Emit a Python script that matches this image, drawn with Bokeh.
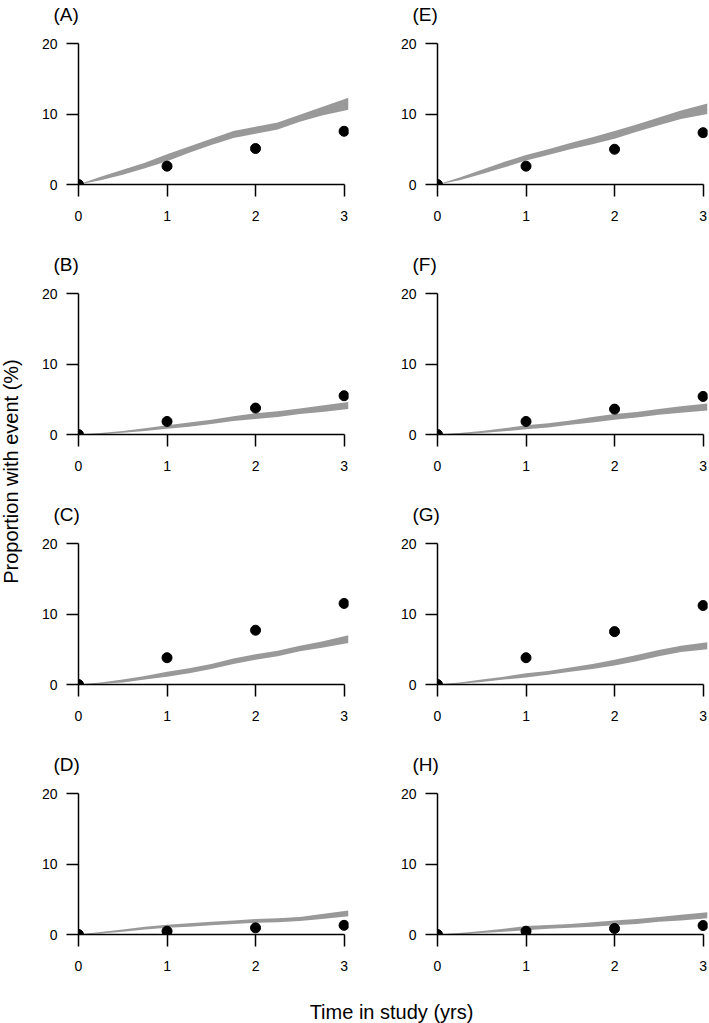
import numpy as np
from bokeh.plotting import figure
from bokeh.layouts import column, row
from bokeh.models import Range1d, FixedTicker, Label
from bokeh.embed import file_html
from bokeh.resources import INLINE

# ---------------- data ----------------
time_grid = [0, 0.25, 0.5, 0.75, 1, 1.25, 1.5, 1.75, 2, 2.25, 2.5, 2.75, 3.05]
obs_time = [0, 1, 2, 3]
x_ticks = [0, 1, 2, 3]
y_ticks = [0, 10, 20]

upper_A = [0, 1.1, 2.1, 3.1, 4.3, 5.4, 6.5, 7.6, 8.2, 8.8, 9.9, 11.0, 12.3]
lower_A = [0, 0.6, 1.4, 2.3, 3.3, 4.5, 5.6, 6.6, 7.2, 7.8, 8.9, 9.8, 10.6]
upper_B = [0, 0.2, 0.5, 0.9, 1.3, 1.7, 2.1, 2.6, 3.0, 3.3, 3.7, 4.1, 4.6]
lower_B = [0, 0.05, 0.25, 0.5, 0.8, 1.1, 1.5, 1.9, 2.2, 2.5, 2.9, 3.2, 3.6]
upper_C = [0, 0.3, 0.7, 1.2, 1.8, 2.3, 2.9, 3.7, 4.3, 4.8, 5.5, 6.1, 7.0]
lower_C = [0, 0.1, 0.3, 0.7, 1.1, 1.6, 2.2, 2.9, 3.5, 4.0, 4.7, 5.2, 5.9]
upper_D = [0, 0.35, 0.7, 1.1, 1.4, 1.6, 1.8, 2.0, 2.2, 2.3, 2.5, 2.9, 3.4]
lower_D = [0, 0.15, 0.4, 0.7, 0.95, 1.1, 1.3, 1.5, 1.65, 1.75, 1.9, 2.2, 2.6]
upper_E = [0, 1.0, 2.1, 3.2, 4.2, 5.0, 5.9, 6.7, 7.6, 8.5, 9.5, 10.5, 11.5]
lower_E = [0, 0.6, 1.5, 2.4, 3.4, 4.2, 5.0, 5.7, 6.5, 7.5, 8.4, 9.3, 10.0]
upper_F = [0, 0.2, 0.5, 0.9, 1.3, 1.6, 2.0, 2.5, 2.9, 3.2, 3.6, 4.0, 4.4]
lower_F = [0, 0.05, 0.2, 0.45, 0.75, 1.0, 1.4, 1.7, 2.1, 2.4, 2.8, 3.1, 3.4]
upper_G = [0, 0.3, 0.7, 1.1, 1.6, 1.9, 2.4, 2.9, 3.5, 4.2, 4.9, 5.5, 6.0]
lower_G = [0, 0.1, 0.35, 0.7, 1.0, 1.4, 1.8, 2.2, 2.7, 3.3, 4.0, 4.6, 5.0]
upper_H = [0, 0.2, 0.5, 0.8, 1.2, 1.35, 1.5, 1.75, 2.0, 2.2, 2.5, 2.8, 3.15]
lower_H = [0, 0.05, 0.2, 0.4, 0.6, 0.8, 0.95, 1.1, 1.3, 1.5, 1.8, 2.0, 2.3]

obs_A = [0, 2.6, 5.1, 7.55]
obs_B = [0, 1.85, 3.75, 5.5]
obs_C = [0, 3.8, 7.7, 11.5]
obs_D = [0, 0.47, 0.94, 1.3]
obs_E = [0, 2.6, 5.0, 7.35]
obs_F = [0, 1.85, 3.6, 5.4]
obs_G = [0, 3.8, 7.5, 11.2]
obs_H = [0, 0.47, 0.85, 1.27]

y_label = "Proportion with event (%)"
x_label = "Time in study (yrs)"

# ---------------- styling ----------------
FONT = "Liberation Sans"
BAND = "#999999"
FRAME_W = 270
FRAME_H = 141
STRIP_H = 30          # strip holding the panel letters
PANEL_H = 220         # figure height below the strip
TOP_B = 13            # border between strip and frame top
LEFT_W, RIGHT_W = 336, 349
LEFT_B, RIGHT_B = 54, 77


def blank(width, height):
    f = figure(width=width, height=height, x_range=Range1d(0, 1), y_range=Range1d(0, 1),
               output_backend="svg", toolbar_location=None, min_border=0,
               x_axis_location=None, y_axis_location=None,
               outline_line_color=None,
               background_fill_color="white", border_fill_color="white")
    f.grid.visible = False
    return f


def make_panel(upper, lower, obs, width, left_border):
    p = figure(width=width, height=PANEL_H,
               x_range=Range1d(0, 3.05), y_range=Range1d(0, 20),
               output_backend="svg", toolbar_location=None,
               min_border_left=left_border,
               min_border_right=width - left_border - FRAME_W,
               min_border_top=TOP_B, min_border_bottom=PANEL_H - TOP_B - FRAME_H,
               outline_line_color=None,
               background_fill_color="white", border_fill_color="white")
    p.grid.visible = False
    p.varea(x=time_grid, y1=lower, y2=upper, fill_color=BAND)
    p.scatter(obs_time, obs, size=10, color="black")

    for ax, ticks, bnds in ((p.xaxis, x_ticks, (0, 3)), (p.yaxis, y_ticks, (0, 20))):
        ax.ticker = FixedTicker(ticks=ticks)
        ax.bounds = bnds
        ax.axis_line_width = 1.5
        ax.axis_line_color = "black"
        ax.major_tick_line_width = 1.5
        ax.major_tick_line_color = "black"
        ax.major_tick_out = 12
        ax.major_tick_in = 0
        ax.minor_tick_out = 0
        ax.minor_tick_in = 0
        ax.major_label_text_font = FONT
        ax.major_label_text_font_size = "14px"
        ax.major_label_text_color = "black"
    p.xaxis.major_label_standoff = 14
    p.yaxis.major_label_standoff = 9
    return p


def letter_strip(left_letter, right_letter):
    s = blank(LEFT_W + RIGHT_W, STRIP_H)
    for txt, xpos in ((left_letter, LEFT_B - 25), (right_letter, LEFT_W + RIGHT_B - 25)):
        s.add_layout(Label(x=xpos, y=STRIP_H - 14, x_units="screen", y_units="screen",
                           text=f"({txt})", text_align="left", text_baseline="middle",
                           text_font=FONT, text_font_size="19px", text_color="black"))
    return s


rows = []
for (l_let, l_up, l_lo, l_obs), (r_let, r_up, r_lo, r_obs) in (
        (("A", upper_A, lower_A, obs_A), ("E", upper_E, lower_E, obs_E)),
        (("B", upper_B, lower_B, obs_B), ("F", upper_F, lower_F, obs_F)),
        (("C", upper_C, lower_C, obs_C), ("G", upper_G, lower_G, obs_G)),
        (("D", upper_D, lower_D, obs_D), ("H", upper_H, lower_H, obs_H))):
    rows.append(letter_strip(l_let, r_let))
    rows.append(row(make_panel(l_up, l_lo, l_obs, LEFT_W, LEFT_B),
                    make_panel(r_up, r_lo, r_obs, RIGHT_W, RIGHT_B)))

grid_col = column(*rows)

yfig = blank(24, 1000)
yfig.add_layout(Label(x=10, y=529, x_units="screen", y_units="screen",
                      text=y_label, angle=np.pi / 2,
                      text_align="center", text_baseline="middle",
                      text_font=FONT, text_font_size="20px", text_color="black"))

xfig = blank(709, 23)
xfig.add_layout(Label(x=391, y=12, x_units="screen", y_units="screen",
                      text=x_label, text_align="center", text_baseline="middle",
                      text_font=FONT, text_font_size="20px", text_color="black"))

layout = column(row(yfig, grid_col), xfig)

open("out.html", "w").write(file_html(layout, INLINE))
